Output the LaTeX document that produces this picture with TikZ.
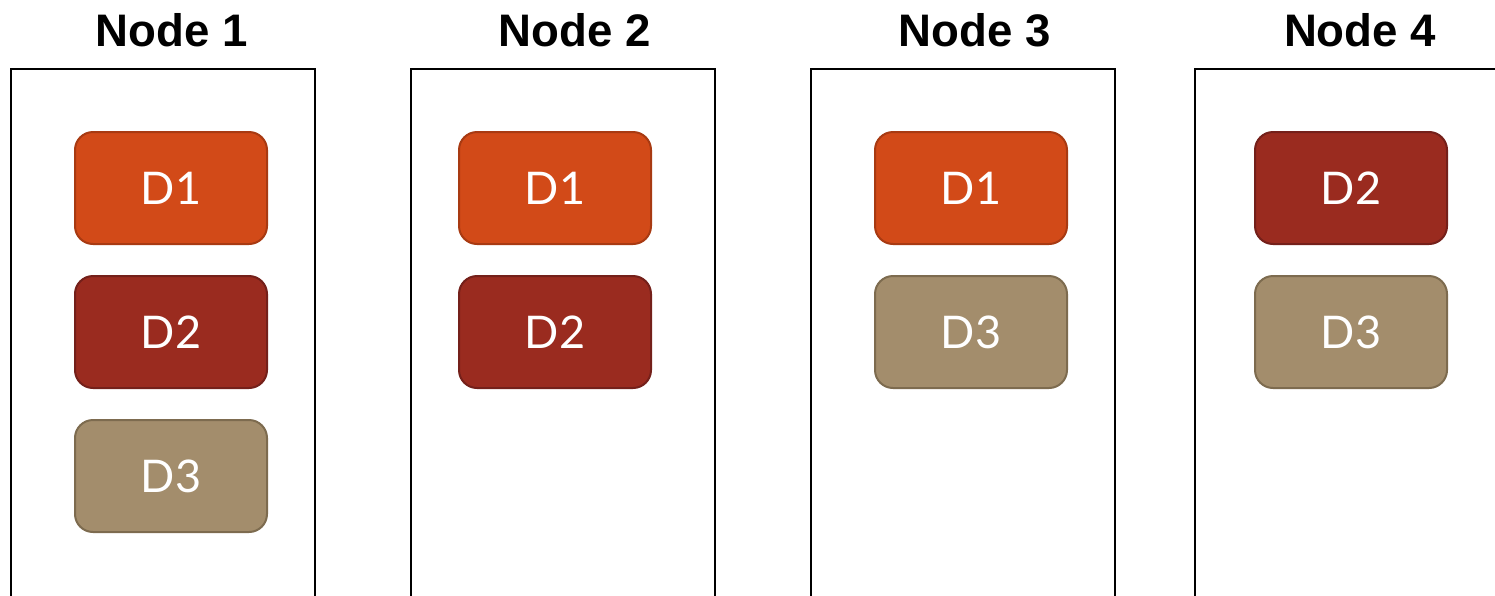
\documentclass[tikz,border=0pt]{standalone}
\usepackage{fontspec}
\setmainfont{Liberation Sans}
\newfontfamily\chipfont{Lato}
\usetikzlibrary{positioning}
\definecolor{dorange}{HTML}{D24A18}
\definecolor{dorangeline}{HTML}{A83A12}
\definecolor{dred}{HTML}{9A2B1F}
\definecolor{dredline}{HTML}{74201A}
\definecolor{dtan}{HTML}{A38D6C}
\definecolor{dtanline}{HTML}{7D6B4F}
\tikzset{
  hostbox/.style={draw=black, line width=2.4},
  title/.style={anchor=base, font=\fontsize{45.6}{50}\selectfont\bfseries},
  chip/.style={rectangle, rounded corners=18, line width=2, minimum width=192, minimum height=112, text=white, font=\fontsize{45}{50}\selectfont\chipfont},
  dfirst/.style={chip, fill=dorange, draw=dorangeline},
  dsecond/.style={chip, fill=dred, draw=dredline},
  dthird/.style={chip, fill=dtan, draw=dtanline}
}
\begin{document}
\begin{tikzpicture}[x=1pt, y=-1pt, node distance=30pt]
  \clip (0,0) rectangle (1495,595);
  % hosts
  \node[title] (t1) at (172,46) {Node 1};
  \node[title] (t2) at (575,46) {Node 2};
  \node[title] (t3) at (975,46) {Node 3};
  \node[title] (t4) at (1360,46) {Node 4};
  \draw[hostbox] (11,69) rectangle (315,620);
  \draw[hostbox] (411,69) rectangle (715,620);
  \draw[hostbox] (811,69) rectangle (1115,620);
  \draw[hostbox] (1195,69) rectangle (1520,620);
  % node 1
  \node[dfirst] (n1d1) at (171,188) {D1};
  \node[dsecond, below=of n1d1] (n1d2) {D2};
  \node[dthird, below=of n1d2] (n1d3) {D3};
  % node 2
  \node[dfirst] (n2d1) at (555,188) {D1};
  \node[dsecond, below=of n2d1] (n2d2) {D2};
  % node 3
  \node[dfirst] (n3d1) at (971,188) {D1};
  \node[dthird, below=of n3d1] (n3d3) {D3};
  % node 4
  \node[dsecond] (n4d2) at (1351,188) {D2};
  \node[dthird, below=of n4d2] (n4d3) {D3};
\end{tikzpicture}
\end{document}
